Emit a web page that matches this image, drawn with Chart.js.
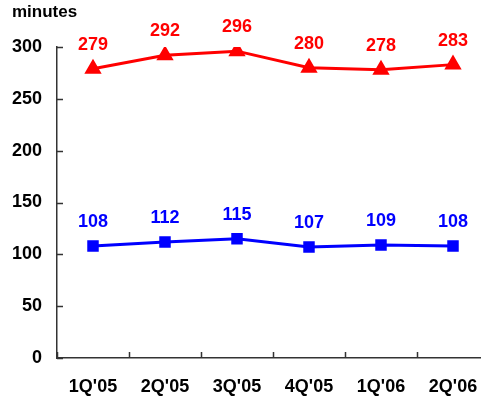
<!DOCTYPE html>
<html>
<head>
<meta charset="utf-8">
<script src="https://cdn.jsdelivr.net/npm/chart.js@4/dist/chart.umd.min.js"></script>
<style>
  html, body { margin: 0; padding: 0; background: #fff; overflow: hidden; }
  #wrap { position: relative; width: 500px; height: 400px; }
</style>
</head>
<body>
<div id="wrap"><canvas id="myChart"></canvas></div>
<script>
// Chart data
const quarters = ["1Q'05", "2Q'05", "3Q'05", "4Q'05", "1Q'06", "2Q'06"];
const redValues = [279, 292, 296, 280, 278, 283];
const blueValues = [108, 112, 115, 107, 109, 108];
const yTicks = [0, 50, 100, 150, 200, 250, 300];
const unitLabel = 'minutes';

const FONT = '"Liberation Sans", Arial, sans-serif';

// Draws the small inward tick marks on both axes
const innerTicks = {
    id: 'innerTicks',
    afterDraw(chart) {
        const ctx = chart.ctx;
        const x = chart.scales.x;
        const y = chart.scales.y;
        ctx.save();
        ctx.strokeStyle = '#333';
        ctx.lineWidth = 1.5;
        ctx.beginPath();
        yTicks.forEach(v => {
            const py = Math.round(y.getPixelForValue(v)) + 0.5;
            ctx.moveTo(x.left, py);
            ctx.lineTo(x.left + 6, py);
        });
        for (let i = 0; i <= quarters.length; i++) {
            const px = Math.round(x.getPixelForValue(i - 0.5)) + 0.5;
            ctx.moveTo(px, y.bottom);
            ctx.lineTo(px, y.bottom - 6);
        }
        ctx.stroke();

        // unit label above the y axis
        ctx.fillStyle = '#000';
        ctx.font = 'bold 17px ' + FONT;
        ctx.textAlign = 'left';
        ctx.textBaseline = 'alphabetic';
        ctx.fillText(unitLabel, 12, 17);
        ctx.restore();
    }
};

// Value labels above each point
const valueLabels = {
    id: 'valueLabels',
    afterDatasetsDraw(chart) {
        const ctx = chart.ctx;
        ctx.save();
        ctx.font = 'bold 18px ' + FONT;
        ctx.textAlign = 'center';
        ctx.textBaseline = 'alphabetic';
        chart.data.datasets.forEach((ds, di) => {
            const meta = chart.getDatasetMeta(di);
            ctx.fillStyle = ds.borderColor;
            meta.data.forEach((pt, i) => {
                ctx.fillText(ds.data[i], pt.x, pt.y - 19);
            });
        });
        ctx.restore();
    }
};

const ctx = document.getElementById('myChart').getContext('2d');
const myChart = new Chart(ctx, {
    type: 'line',
    data: {
        labels: quarters,
        datasets: [{
            label: 'red',
            data: redValues,
            borderColor: '#ff0000',
            backgroundColor: '#ff0000',
            borderWidth: 3,
            pointStyle: 'triangle',
            pointRadius: 7,
            tension: 0
        }, {
            label: 'blue',
            data: blueValues,
            borderColor: '#0000ff',
            backgroundColor: '#0000ff',
            borderWidth: 3,
            pointStyle: 'rect',
            pointRadius: 6,
            tension: 0
        }]
    },
    options: {
        responsive: true,
        maintainAspectRatio: false,
        animation: false,
        layout: {
            padding: { left: 12, right: 11, top: 47, bottom: 2 }
        },
        scales: {
            x: {
                offset: true,
                grid: { display: false, offset: true, drawTicks: false },
                border: { color: '#333', width: 1.5 },
                ticks: {
                    color: '#000',
                    font: { family: FONT, size: 18, weight: 'bold' },
                    padding: 18,
                    maxRotation: 0
                },
                afterFit: scale => { scale.height = 40; }
            },
            y: {
                min: 0,
                max: 300,
                grid: { display: false, drawTicks: false },
                border: { color: '#333', width: 1.5 },
                ticks: {
                    stepSize: 50,
                    color: '#000',
                    font: { family: FONT, size: 18, weight: 'bold' },
                    padding: 15
                },
                afterFit: scale => { scale.width = 45; }
            }
        },
        plugins: {
            legend: { display: false },
            tooltip: { enabled: false }
        }
    },
    plugins: [innerTicks, valueLabels]
});
</script>
</body>
</html>
